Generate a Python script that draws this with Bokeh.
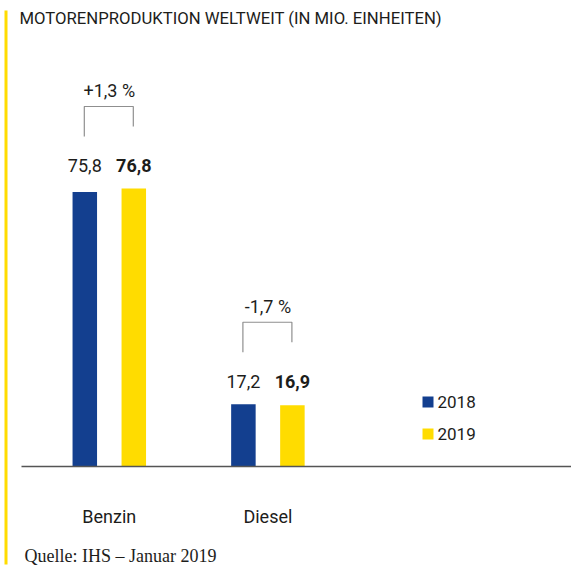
from bokeh.plotting import figure
from bokeh.models import Range1d, Label
from bokeh.embed import file_html
from bokeh.resources import INLINE

# ---- data ----
title_text = "MOTORENPRODUKTION WELTWEIT (IN MIO. EINHEITEN)"
categories = ["Benzin", "Diesel"]
years = ["2018", "2019"]
values_2018 = [75.8, 17.2]
values_2019 = [76.8, 16.9]
labels_2018 = ["75,8", "17,2"]
labels_2019 = ["76,8", "16,9"]
change_labels = ["+1,3 %", "-1,7 %"]
source_text = "Quelle: IHS – Januar 2019"

# ---- layout constants (picture pixel geometry) ----
W, H = 571, 566
K = 3.62            # px per unit
BASE = 466          # baseline y in pixels from top
BLUE = "#133F8F"
YELLOW = "#FFDC00"
TXT = "#1d1d1b"
FONT = "Roboto"

def Y(py):
    return (BASE - py) / K

def dpx(px):
    return px / K

p = figure(width=W, height=H, output_backend="svg", toolbar_location=None,
           x_range=Range1d(0, W), y_range=Range1d(Y(H), Y(0)),
           min_border=0, outline_line_color=None)
p.xaxis.visible = False
p.yaxis.visible = False
p.grid.visible = False
p.background_fill_color = "white"
p.border_fill_color = "white"

group_x0 = 108.8
group_step = 158.6
off = 24.5
bar_w = 24.5

centers = [group_x0 + i * group_step for i in range(len(categories))]
x18 = [c - off for c in centers]
x19 = [c + off for c in centers]

p.vbar(x=x18, top=values_2018, bottom=0, width=bar_w, fill_color=BLUE, line_color=None)
p.vbar(x=x19, top=values_2019, bottom=0, width=bar_w, fill_color=YELLOW, line_color=None)

# baseline
p.segment(x0=[21], y0=[0], x1=[W], y1=[0], line_color="#555555", line_width=1.3)

# yellow accent line at left
p.quad(left=[4], right=[7], bottom=[Y(564)], top=[Y(10)], fill_color=YELLOW, line_color=None)

# value labels, brackets, change labels
bxs, bys = [], []
for i, c in enumerate(categories):
    m = max(values_2018[i], values_2019[i])
    ly = m + dpx(22.5)
    p.add_layout(Label(x=x18[i], y=ly, text=labels_2018[i], text_align="center",
                       text_baseline="middle", text_font=FONT, text_font_size="18px",
                       text_color=TXT))
    p.add_layout(Label(x=x19[i], y=ly, text=labels_2019[i], text_align="center",
                       text_baseline="middle", text_font=FONT, text_font_size="18px",
                       text_font_style="bold", text_color=TXT))
    top = m + dpx(82)
    bxs.append([x18[i] - 0.5, x18[i] - 0.5, x19[i] - 0.5, x19[i] - 0.5])
    bys.append([top - dpx(30), top, top, top - dpx(20)])
    p.add_layout(Label(x=centers[i], y=top + dpx(16), text=change_labels[i], text_align="center",
                       text_baseline="middle", text_font=FONT, text_font_size="18px",
                       text_color=TXT))
    p.add_layout(Label(x=centers[i], y=Y(516), text=c, text_align="center",
                       text_baseline="middle", text_font=FONT, text_font_size="18px",
                       text_color=TXT))

p.multi_line(xs=bxs, ys=bys, line_color="#8f8f8f", line_width=1.2)

# legend
leg_x = 427.5
leg_py = [401.5, 433.5]
leg_colors = [BLUE, YELLOW]
p.rect(x=[leg_x] * 2, y=[Y(v) for v in leg_py], width=11, height=11,
       width_units="screen", height_units="screen", fill_color=leg_colors, line_color=None)
for yr, py in zip(years, leg_py):
    p.add_layout(Label(x=437, y=Y(py), text=yr, text_align="left", text_baseline="middle",
                       text_font=FONT, text_font_size="17px", text_color=TXT))

# title
p.add_layout(Label(x=19, y=Y(17.5), text=title_text, text_align="left", text_baseline="middle",
                   text_font=FONT, text_font_size="16.7px", text_color=TXT))

# source
p.add_layout(Label(x=24, y=Y(555), text=source_text, text_align="left", text_baseline="middle",
                   text_font="Liberation Serif", text_font_size="18px", text_color=TXT))

open("out.html", "w").write(file_html(p, INLINE))
